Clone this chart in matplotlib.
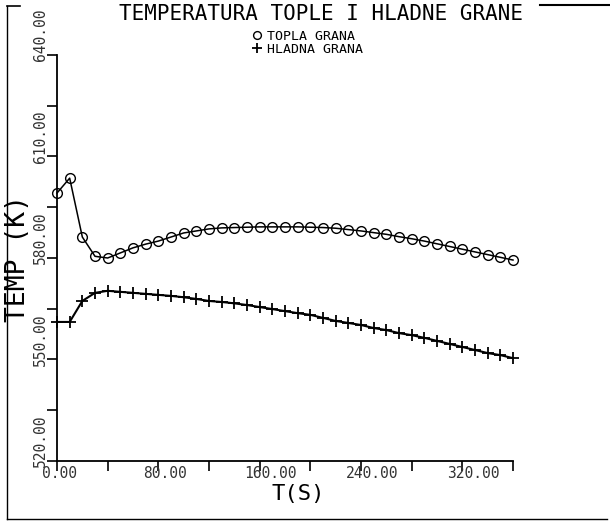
import matplotlib
matplotlib.use("Agg")
import matplotlib.pyplot as plt
from matplotlib.lines import Line2D
from matplotlib.transforms import ScaledTranslation, blended_transform_factory

# ---- data ----
time_s = [0, 10, 20, 30, 40, 50, 60, 70, 80, 90, 100, 110, 120, 130, 140, 150,
          160, 170, 180, 190, 200, 210, 220, 230, 240, 250, 260, 270, 280, 290,
          300, 310, 320, 330, 340, 350, 360]
topla_grana = [599.2, 603.6, 586.2, 580.5, 580.0, 581.5, 583.0, 584.1, 585.0, 586.2,
               587.4, 588.0, 588.6, 588.9, 589.0, 589.1, 589.2, 589.2, 589.2, 589.2,
               589.1, 589.0, 588.8, 588.4, 588.0, 587.5, 587.0, 586.3, 585.7, 585.0,
               584.2, 583.4, 582.6, 581.8, 581.0, 580.2, 579.4]
hladna_grana = [561.1, 561.1, 567.3, 569.7, 570.3, 570.0, 569.7, 569.4, 569.1, 568.8,
                568.4, 567.9, 567.3, 567.0, 566.6, 566.1, 565.5, 564.9, 564.3, 563.7,
                563.2, 562.3, 561.4, 560.8, 560.2, 559.3, 558.7, 557.8, 557.2, 556.4,
                555.5, 554.6, 553.7, 552.8, 551.9, 551.3, 550.4]
x_ticks = [0, 40, 80, 120, 160, 200, 240, 280, 320, 360]
x_tick_labels = ["0.00", "", "80.00", "", "160.00", "", "240.00", "", "320.00", ""]
y_ticks = [520, 535, 550, 565, 580, 595, 610, 625, 640]
y_tick_labels = ["520.00", "", "550.00", "", "580.00", "", "610.00", "", "640.00"]
series_labels = ["TOPLA GRANA", "HLADNA GRANA"]
title = "TEMPERATURA TOPLE I HLADNE GRANE"
x_label = "T(S)"
y_label = "TEMP (K)"

FONT = "DejaVu Sans Mono"
plt.rcParams["font.family"] = [FONT]

W, H = 610, 524
fig = plt.figure(figsize=(W / 100, H / 100), dpi=100)
fig.patch.set_facecolor("white")
ax = fig.add_axes([57 / W, 1 - 461 / H, (513 - 57) / W, (461 - 55) / H])
ax.set_facecolor("white")

l1, = ax.plot(time_s, topla_grana, color="black", lw=1.1, marker="o",
              markersize=7, markerfacecolor="none", markeredgewidth=1.0,
              clip_on=False)
l2, = ax.plot(time_s, hladna_grana, color="black", lw=1.5, marker="+",
              markersize=8.5, markeredgewidth=1.3, clip_on=False)

ax.set_xlim(0, 360)
ax.set_ylim(520, 640)
for s in ["top", "right"]:
    ax.spines[s].set_visible(False)
for s in ["left", "bottom"]:
    ax.spines[s].set_linewidth(1.3)

ax.set_xticks(x_ticks)
ax.set_yticks(y_ticks)
ax.set_xticklabels([])
ax.set_yticklabels([])
ax.tick_params(axis="both", direction="out", length=7, width=1.2, color="black")

# tick labels placed as in the plotter output
dpi = fig.dpi
tx = blended_transform_factory(ax.transData, ax.transAxes)
for v, lab in zip(x_ticks, x_tick_labels):
    if lab:
        ax.text(v, 0, lab, transform=tx + ScaledTranslation(-15 / dpi, -13 / dpi, fig.dpi_scale_trans),
                ha="left", va="center", fontsize=10.5, family=FONT, color="#333333")
ty = blended_transform_factory(ax.transAxes, ax.transData)
for v, lab in zip(y_ticks, y_tick_labels):
    if lab:
        ax.text(0, v, lab, transform=ty + ScaledTranslation(-17 / dpi, 20 / dpi, fig.dpi_scale_trans),
                ha="center", va="center", rotation=90, fontsize=10.5, family=FONT, color="#333333")

fig.text(321 / W, 1 - 14 / H, title, ha="center", va="center", fontsize=15, family=FONT)
fig.text(18 / W, 1 - 258 / H, y_label, ha="center", va="center", rotation=90,
         fontsize=19, family=FONT)
fig.text(298 / W, 1 - 494 / H, x_label, ha="center", va="center", fontsize=16, family=FONT)

leg = ax.legend([l1, l2], series_labels, loc="upper left",
                bbox_to_anchor=(250 / W, 1 - 23 / H), bbox_transform=fig.transFigure,
                frameon=False, handlelength=0.0, handletextpad=0.8, labelspacing=0.0,
                borderpad=0.0, markerscale=0.8, prop={"family": FONT, "size": 9.5})

# outer frame of the scanned sheet
fig.add_artist(Line2D([7 / W, 7 / W], [1 - 6 / H, 1 - 519 / H], transform=fig.transFigure,
                      color="black", lw=1.0))
fig.add_artist(Line2D([7 / W, 607 / W], [1 - 519 / H, 1 - 519 / H], transform=fig.transFigure,
                      color="black", lw=1.0))
fig.add_artist(Line2D([7 / W, 20 / W], [1 - 6 / H, 1 - 6 / H], transform=fig.transFigure,
                      color="black", lw=1.2))
fig.add_artist(Line2D([540 / W, 609 / W], [1 - 5 / H, 1 - 5 / H], transform=fig.transFigure,
                      color="black", lw=1.5))

fig.savefig("out.png", dpi=100, facecolor="white")
